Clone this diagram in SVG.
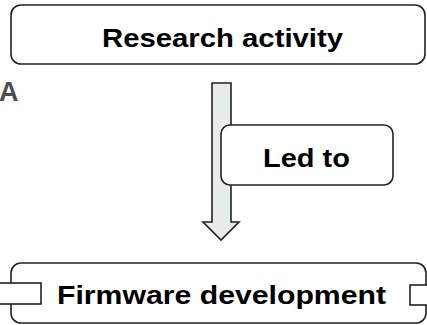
<svg xmlns="http://www.w3.org/2000/svg" width="427" height="325" viewBox="0 0 427 325">
  <style>
    .box { fill: #ffffff; stroke: #222222; stroke-width: 1.6; }
    .port { fill: #ffffff; stroke: #222222; stroke-width: 1.6; }
    .label { font-family: "Liberation Sans", Arial, sans-serif; font-weight: bold; font-size: 26px; fill: #000000; text-anchor: middle; }
    .panel { font-family: "Liberation Sans", Arial, sans-serif; font-weight: bold; font-size: 27px; fill: #4d4d4d; }
    .arrow { fill: #e8ebec; stroke: #222222; stroke-width: 1.6; stroke-linejoin: miter; }
  </style>
  <rect width="427" height="325" fill="#ffffff"/>

  <!-- panel letter -->
  <text class="panel" x="-1" y="101">A</text>

  <!-- connectors -->
  <g id="connectors">
    <path class="arrow" d="M212,83 H231 V222 H239 L221,240 L203,222 H212 Z"/>
  </g>

  <g id="research-activity">
    <rect class="box" x="11" y="5" width="414" height="59" rx="10"/>
    <text class="label" x="222.5" y="46.5" textLength="241" lengthAdjust="spacingAndGlyphs">Research activity</text>
  </g>

  <g id="led-to">
    <rect class="box" x="221" y="125" width="172" height="60" rx="9"/>
    <text class="label" x="306.5" y="167" textLength="87" lengthAdjust="spacingAndGlyphs">Led to</text>
  </g>

  <g id="firmware-development">
    <rect class="box" x="11" y="263" width="415" height="60" rx="10"/>
    <rect class="port" x="-6" y="283" width="47" height="21"/>
    <rect class="port" x="410" y="285" width="22" height="20"/>
    <text class="label" x="221.5" y="304" textLength="329" lengthAdjust="spacingAndGlyphs">Firmware development</text>
  </g>
</svg>
